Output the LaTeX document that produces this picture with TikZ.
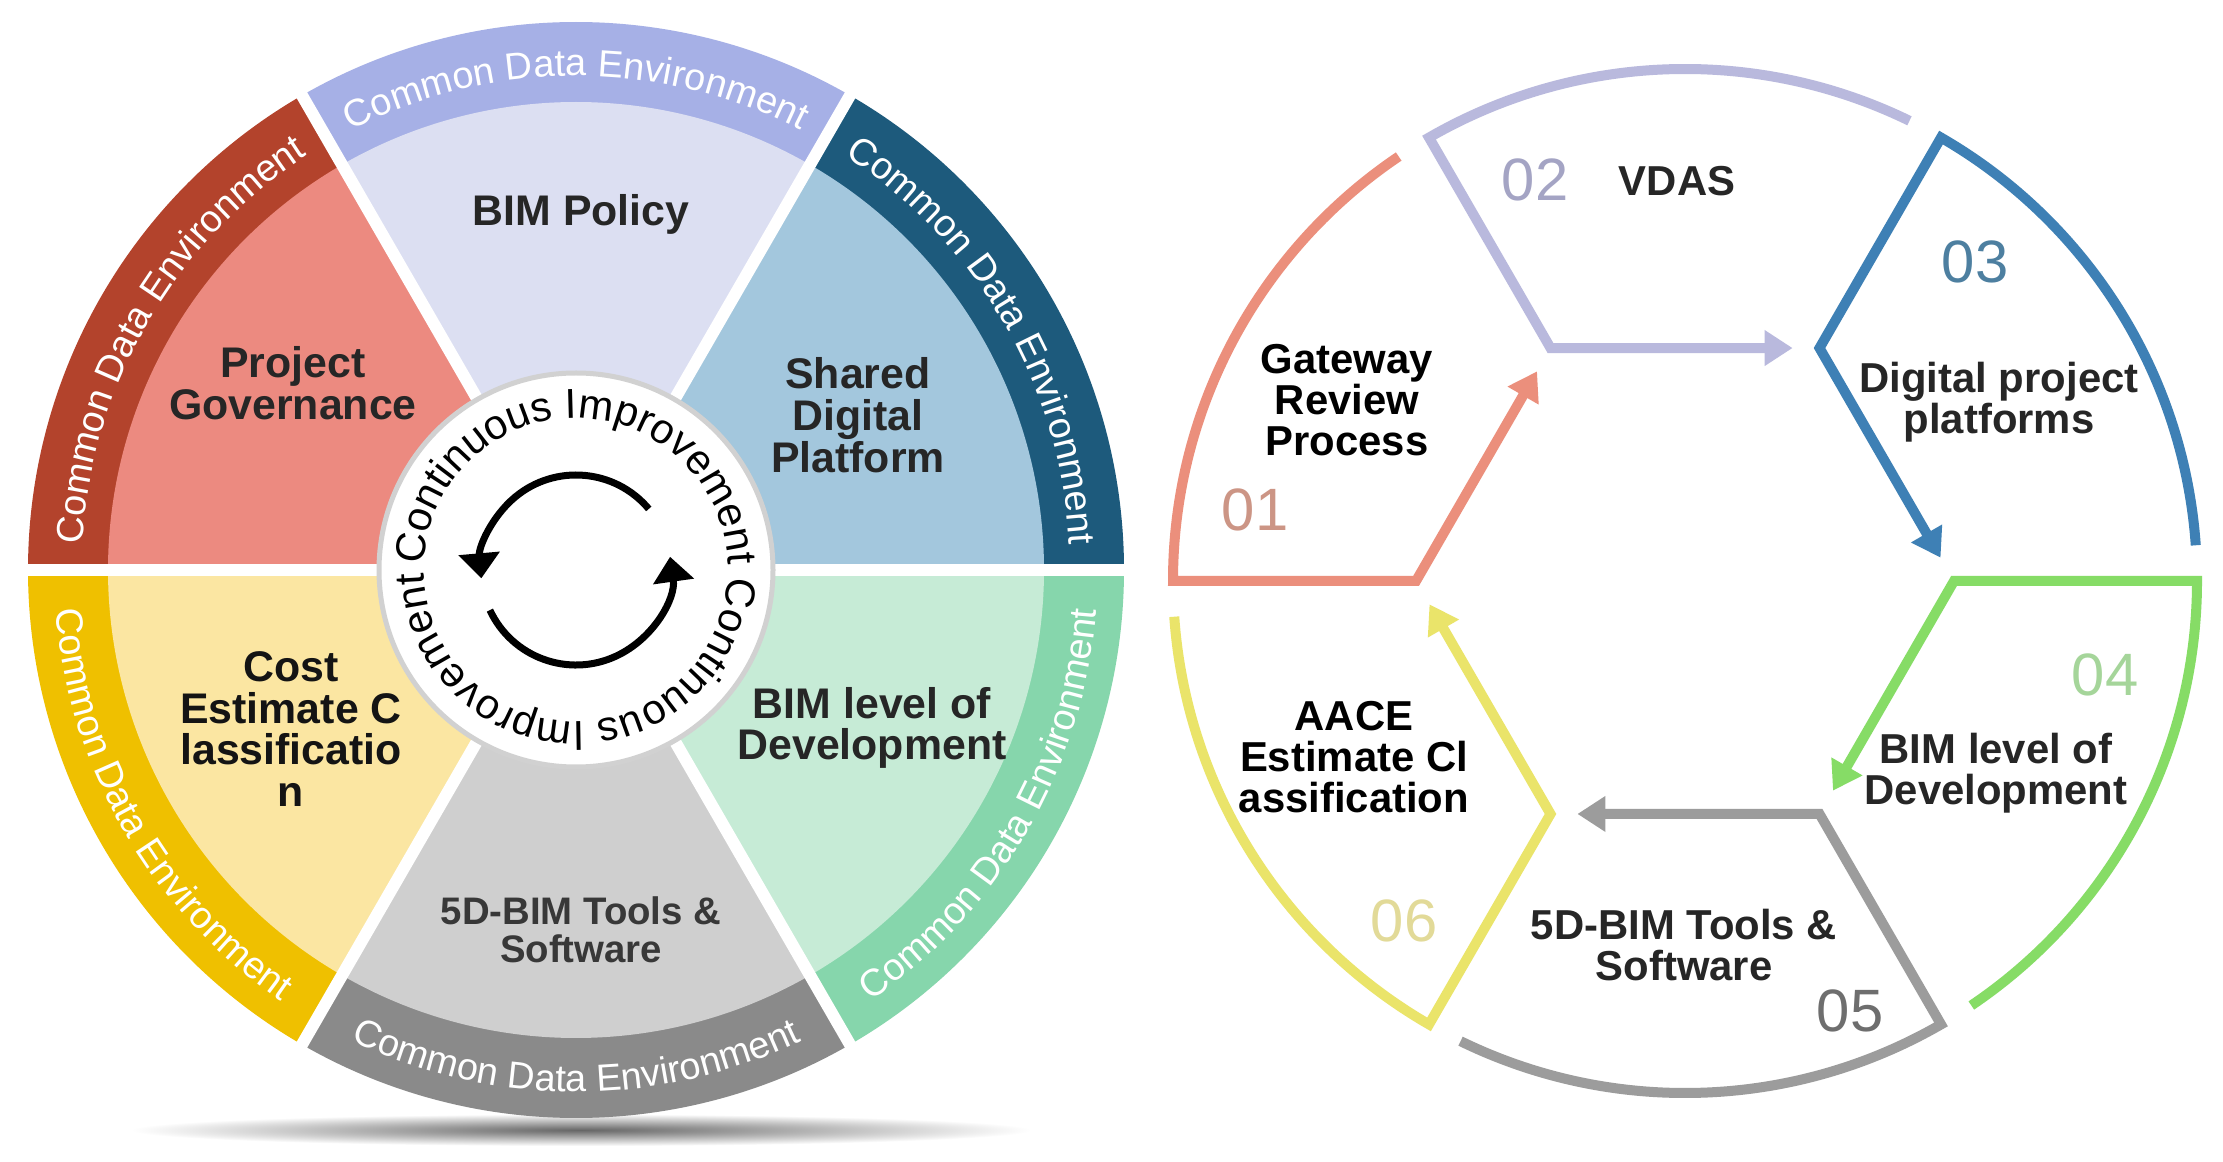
\documentclass[tikz,border=0pt]{standalone}
\usepackage{fontspec}
\setmainfont{Liberation Sans}
\usetikzlibrary{decorations.text,arrows.meta,calc}
\definecolor{pgIn}{HTML}{EC8A80}
\definecolor{pgBand}{HTML}{B3432C}
\definecolor{bpIn}{HTML}{DCDFF2}
\definecolor{bpBand}{HTML}{A6B0E6}
\definecolor{sdIn}{HTML}{A3C7DD}
\definecolor{sdBand}{HTML}{1D5A7C}
\definecolor{blIn}{HTML}{C6EBD6}
\definecolor{blBand}{HTML}{86D6AC}
\definecolor{btIn}{HTML}{CFCFCF}
\definecolor{btBand}{HTML}{8A8A8A}
\definecolor{ceIn}{HTML}{FBE6A2}
\definecolor{ceBand}{HTML}{EFC000}
\definecolor{c1}{HTML}{EB8F7C}
\definecolor{c2}{HTML}{B9B9DD}
\definecolor{c3}{HTML}{3E80B5}
\definecolor{c4}{HTML}{86DC66}
\definecolor{c5}{HTML}{9C9C9C}
\definecolor{c6}{HTML}{EAE46A}
\definecolor{n1}{HTML}{CC9585}
\definecolor{n2}{HTML}{A4A4C4}
\definecolor{n3}{HTML}{4D7FA0}
\definecolor{n4}{HTML}{A5D59A}
\definecolor{n5}{HTML}{6E6E6E}
\definecolor{n6}{HTML}{E2DA98}
\newcommand\segfont{\bfseries\fontsize{43}{42}\selectfont}
\newcommand\segfontsm{\bfseries\fontsize{38.5}{38}\selectfont}
\newcommand\bandfont{\fontsize{38}{44}\selectfont}
\newcommand\ringfont{\fontsize{42}{48}\selectfont}
\newcommand\cycfont{\bfseries\fontsize{42}{41}\selectfont}
\newcommand\numfont{\fontsize{60}{70}\selectfont}
\begin{document}
\begin{tikzpicture}[x=1bp,y=1bp,
  bandtxt/.style={decorate,decoration={text along path,text align=center,text color=white,text={|\bandfont|Common Data Environment}}},
  seglbl/.style={font=\segfont,align=center,text=black!85},
  cyclbl/.style={font=\cycfont,align=center,text=black!85},
  numlbl/.style={font=\numfont},
  cycline/.style={line width=10bp,-{Triangle[width=34bp,length=28bp]}}]
\useasboundingbox (0,0) rectangle (2223,1161);
\fill[white] (0,0) rectangle (2223,1161);
% ---------- left wheel ----------
\coordinate (C) at (576,591);
\shade[inner color=black!60, outer color=white] (581,31) ellipse (450 and 16);
\foreach \a/\ci/\cb in {120/pgIn/pgBand, 60/bpIn/bpBand, 0/sdIn/sdBand, -60/blIn/blBand, -120/btIn/btBand, 180/ceIn/ceBand} {
  \fill[\cb] (C) -- ($(C)+(\a:548)$) arc (\a:\a+60:548) -- cycle;
  \fill[\ci] (C) -- ($(C)+(\a:468)$) arc (\a:\a+60:468) -- cycle;
}
\foreach \a in {0,60,...,300} \draw[white, line width=12bp] (C) -- ($(C)+(\a:565)$);
\path[bandtxt] ($(C)+(180:494)$) arc (180:120:494);
\path[bandtxt] ($(C)+(120:494)$) arc (120:60:494);
\path[bandtxt] ($(C)+(60:494)$) arc (60:0:494);
\path[bandtxt] ($(C)+(-60:522)$) arc (-60:0:522);
\path[bandtxt] ($(C)+(-120:522)$) arc (-120:-60:522);
\path[bandtxt] ($(C)+(180:522)$) arc (180:240:522);
\node[seglbl] (bp) at (581,947) {BIM Policy};
\node[seglbl] (pg) at (293,778) {Project\\Governance};
\node[seglbl] (sd) at (858,746) {Shared\\Digital\\Platform};
\node[seglbl,text=black!92] (ce) at (291,432) {Cost\\Estimate C\\lassificatio\\n};
\node[seglbl] (bl) at (872,433) {BIM level of\\Development};
\node[seglbl,font=\segfontsm,text=black!78] (bt) at (581,231) {5D-BIM Tools \&\\Software};
\filldraw[fill=white, draw=black!18, line width=5bp] (C) circle (197);
\path[decorate,decoration={text along path,text align=fit to path,text={|\ringfont|Continuous Improvement Continuous Improvement}}] ($(C)+(178:152)$) arc (178:-177:152);
\draw[line width=7bp,-{Triangle[width=40bp,length=25bp]}] ($(C)+(40:95)$) arc (40:185:95);
\draw[line width=7bp,-{Triangle[width=40bp,length=25bp]}] ($(C)+(205:95)$) arc (205:368:95);
% ---------- right cycle ----------
\coordinate (O) at (1685,580);
\foreach \i/\a in {1/180,2/120,3/60,4/0,5/-60,6/-120} {
  \coordinate (o\i) at ($(O)+(\a:512)$);
  \coordinate (v\i) at ($(O)+(\a:269)$);
}
\foreach \i/\a/\j in {1/180/2, 2/120/3, 3/60/4, 4/0/5, 5/-60/6, 6/-120/1} {
  \draw[cycline, c\i] ($(O)+(\a-56:512)$) arc (\a-56:\a:512) -- (v\i) -- ($(v\i)!0.9!(v\j)$);
}
\node[cyclbl,text=black] (t1) at (1347,761) {Gateway\\Review\\Process};
\node[cyclbl] (t2) at (1677,980) {VDAS};
\node[cyclbl] (t3) at (1999,759) {Digital project\\platforms};
\node[cyclbl] (t4) at (1996,388) {BIM level of\\Development};
\node[cyclbl] (t5) at (1684,216) {5D-BIM Tools \&\\Software};
\node[cyclbl,text=black] (t6) at (1354,404) {AACE\\Estimate Cl\\assification};
\node[numlbl,text=n1] (m1) at (1255,651) {01};
\node[numlbl,text=n2] (m2) at (1535,981) {02};
\node[numlbl,text=n3] (m3) at (1975,899) {03};
\node[numlbl,text=n4] (m4) at (2105,486) {04};
\node[numlbl,text=n5] (m5) at (1850,150) {05};
\node[numlbl,text=n6] (m6) at (1404,240) {06};
\end{tikzpicture}
\end{document}
